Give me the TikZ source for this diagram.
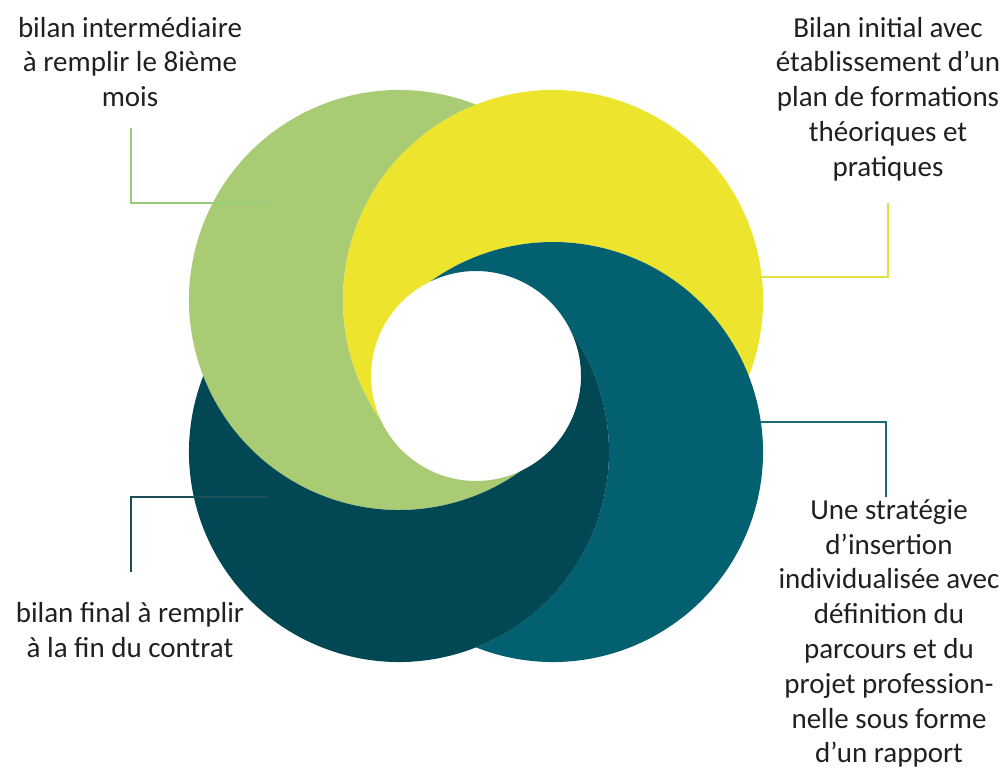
\documentclass[tikz,border=0pt]{standalone}
\usepackage{fontspec}
\setmainfont{Carlito}
\definecolor{cgreen}{HTML}{A8CB73}
\definecolor{cyellow}{HTML}{EDE42E}
\definecolor{cteal}{HTML}{026070}
\definecolor{cdark}{HTML}{014854}
\definecolor{ctext}{HTML}{231F20}
\definecolor{lgreen}{HTML}{96CD78}
\definecolor{lyellow}{HTML}{E3DF3C}
\definecolor{lteal}{HTML}{176A76}
\definecolor{ldark}{HTML}{1B4E58}
\begin{document}
\begin{tikzpicture}[x=1pt,y=1pt,
  lbl/.style={font=\fontsize{29}{34.8}\selectfont, text=ctext, align=center, inner sep=0pt, anchor=north},
  conn/.style={line width=2pt}]
\useasboundingbox (0,0) rectangle (1008,769);
% green region (top-left)
\fill[cgreen] (476,664.374) arc[start angle=68.49, end angle=305.61, radius=210]
  arc[start angle=-64.46, end angle=-155.22, radius=105]
  arc[start angle=-145.15, end angle=-248.49, radius=210] -- cycle;
% yellow region (top-right)
\fill[cyellow] (748.765,393) arc[start angle=-21.22, end angle=214.85, radius=210]
  arc[start angle=-155.22, end angle=-244.46, radius=105]
  arc[start angle=-234.39, end angle=-338.78, radius=210] -- cycle;
% teal region (bottom-right)
\fill[cteal] (476,121.626) arc[start angle=-111.51, end angle=125.61, radius=210]
  arc[start angle=-244.46, end angle=-335.22, radius=105]
  arc[start angle=34.85, end angle=-68.49, radius=210] -- cycle;
% dark region (bottom-left)
\fill[cdark] (203.235,393) arc[start angle=-201.22, end angle=34.85, radius=210]
  arc[start angle=-335.22, end angle=-424.46, radius=105]
  arc[start angle=-54.39, end angle=-158.78, radius=210] -- cycle;
% labels
\node[lbl] (tl) at (130,756) {\rule{0pt}{24pt}bilan intermédiaire\\à remplir le 8ième\\mois};
\node[lbl] (tr) at (888,756) {\rule{0pt}{24pt}Bilan initial avec\\établissement d’un\\plan de formations\\théoriques et\\pratiques};
\node[lbl] (bl) at (130,171) {\rule{0pt}{24pt}bilan final à remplir\\à la fin du contrat};
\node[lbl] (br) at (889,274) {\rule{0pt}{24pt}Une stratégie\\d’insertion\\individualisée avec\\définition du\\parcours et du\\projet profession-\\nelle sous forme\\d’un rapport};
% connectors
\coordinate (g1) at (131,641); \coordinate (g2) at (268,566);
\coordinate (y1) at (888,566); \coordinate (y2) at (755,492);
\coordinate (t1) at (760,347); \coordinate (t2) at (886,272);
\coordinate (d1) at (268,272); \coordinate (d2) at (131,197);
\draw[conn, lgreen] (g1) |- (g2);
\draw[conn, lyellow] (y1) |- (y2);
\draw[conn, lteal] (t1) -| (t2);
\draw[conn, ldark] (d1) -| (d2);
\end{tikzpicture}
\end{document}
